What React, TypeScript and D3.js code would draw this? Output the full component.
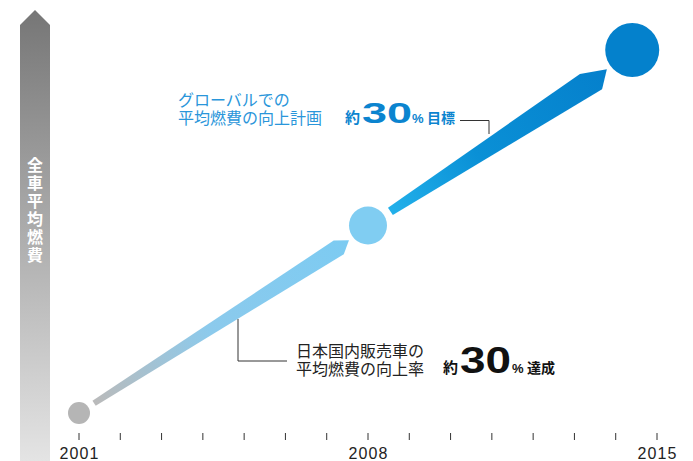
import React from "react";
import * as d3 from "d3";

// ---- data ----
const milestoneYears = [2001, 2008, 2014.4];
const fuelIndex = [100, 131, 160];
const tickYears = d3.range(2001, 2016);
const labelYears = [2001, 2008, 2015];
const axisTitle = "全車平均燃費";
const domesticLines = ["日本国内販売車の", "平均燃費の向上率"];
const globalLines = ["グローバルでの", "平均燃費の向上計画"];
const domesticValue = "30";
const globalValue = "30";

// ---- styles ----
const W = 693;
const H = 461;
const radii = [11, 19, 27];
const circleColors = ["#b5b5b5", "#80cdf2", "#0481cc"];
const JP = "'Noto Sans CJK JP', 'Noto Sans', sans-serif";
const NUM = "'Liberation Sans', Arial, sans-serif";

type BandStyle = {
  s: number; tipBack: number; top0: number; top1: number; bot0: number; bot1: number;
  topBack: number; botBack: number; tipAcross: number; stops: [number, string][];
};
const bandStyles: BandStyle[] = [
  { s: 18, tipBack: 24, top0: 3, top1: 6, bot0: -3, bot1: -11, topBack: 13, botBack: 12, tipAcross: -2,
    stops: [[0, "#bababa"], [0.45, "#8ccaec"], [1, "#7ccbf2"]] },
  { s: 26.5, tipBack: 31.8, top0: 3.8, top1: 9, bot0: -5, bot1: -16, topBack: 25, botBack: 15, tipAcross: -2,
    stops: [[0, "#22b0ea"], [0.4, "#0a90d6"], [1, "#0580cc"]] },
];

export default function App() {
  const x = d3.scaleLinear().domain([2001, 2015]).range([79, 657]);
  const y = d3.scaleLinear().domain([100, 160]).range([413, 50]);

  const pts = milestoneYears.map((yr, i) => ({ x: x(yr), y: y(fuelIndex[i]) }));

  const bands = bandStyles.map((st, i) => {
    const A = pts[i];
    const B = pts[i + 1];
    const dx = B.x - A.x, dy = B.y - A.y;
    const L = Math.hypot(dx, dy);
    const u = { x: dx / L, y: dy / L };
    const n = { x: u.y, y: -u.x }; // points up-left
    const P = (a: number, c: number): [number, number] => [A.x + u.x * a + n.x * c, A.y + u.y * a + n.y * c];
    const tip = L - st.tipBack;
    const poly = [
      P(st.s, st.top0),
      P(tip - st.topBack, st.top1),
      P(tip, st.tipAcross),
      P(tip - st.botBack, st.bot1),
      P(st.s, st.bot0),
    ];
    const g0 = P(st.s, 0);
    const g1 = P(tip, 0);
    return { poly, g0, g1, stops: st.stops };
  });

  const line = d3.line();

  return (
    <svg width={W} height={H} style={{ position: "absolute", left: 0, top: 0, background: "#fff" }}>
      <defs>
        <linearGradient id="axisGrad" x1="0" y1="0" x2="0" y2="1">
          <stop offset="0" stopColor="#767676" />
          <stop offset="1" stopColor="#e4e4e4" />
        </linearGradient>
        {bands.map((b, i) => (
          <linearGradient key={i} id={`band${i}`} gradientUnits="userSpaceOnUse"
            x1={b.g0[0]} y1={b.g0[1]} x2={b.g1[0]} y2={b.g1[1]}>
            {b.stops.map(([o, c], j) => <stop key={j} offset={o} stopColor={c} />)}
          </linearGradient>
        ))}
      </defs>

      {/* vertical axis arrow */}
      <path d="M20,25 L35,10 L50,25 L50,461 L20,461 Z" fill="url(#axisGrad)" />
      <text x={35} y={157} fill="#fff" fontFamily={JP} fontSize={16} fontWeight={700}
        style={{ writingMode: "vertical-rl" as any }} letterSpacing={2}>{axisTitle}</text>

      {/* bands */}
      {bands.map((b, i) => (
        <path key={i} d={line(b.poly as [number, number][])! + "Z"} fill={`url(#band${i})`} />
      ))}

      {/* circles */}
      {pts.map((p, i) => (
        <circle key={i} cx={p.x} cy={p.y} r={radii[i]} fill={circleColors[i]} />
      ))}

      {/* x axis ticks */}
      {tickYears.map((t) => (
        <line key={t} x1={x(t)} x2={x(t)} y1={433} y2={440} stroke="#333" strokeWidth={1} />
      ))}
      {labelYears.map((t) => (
        <text key={t} x={x(t)} y={459} textAnchor="middle" fontFamily={NUM} fontSize={16} fill="#222"
          textLength={39} lengthAdjust="spacing">{t}</text>
      ))}

      {/* connectors */}
      <path d="M238,319 V361 H287" fill="none" stroke="#333" strokeWidth={1} />
      <path d="M460,120.5 H489 V134" fill="none" stroke="#333" strokeWidth={1} />

      {/* domestic annotation */}
      <text fontFamily={JP} fontSize={16} fill="#222">
        {domesticLines.map((t, i) => (
          <tspan key={i} x={296} y={357 + i * 18}>{t}</tspan>
        ))}
      </text>
      <text x={443} y={373} fontFamily={JP} fontSize={15} fontWeight={700} fill="#111">約</text>
      <text x={460} y={373} fontFamily={NUM} fontSize={36} fontWeight={700} fill="#111"
        textLength={51} lengthAdjust="spacingAndGlyphs">{domesticValue}</text>
      <text x={512} y={373} fontFamily={NUM} fontSize={13} fontWeight={700} fill="#111">%</text>
      <text x={527} y={373} fontFamily={JP} fontSize={14} fontWeight={700} fill="#111">達成</text>

      {/* global annotation */}
      <text fontFamily={JP} fontSize={16} fill="#2a96da">
        {globalLines.map((t, i) => (
          <tspan key={i} x={178} y={106 + i * 17.5}>{t}</tspan>
        ))}
      </text>
      <text x={345} y={123} fontFamily={JP} fontSize={15} fontWeight={700} fill="#0b84cf">約</text>
      <text x={362} y={123} fontFamily={NUM} fontSize={30} fontWeight={700} fill="#0b84cf"
        textLength={50} lengthAdjust="spacingAndGlyphs">{globalValue}</text>
      <text x={412} y={123} fontFamily={NUM} fontSize={13} fontWeight={700} fill="#0b84cf">%</text>
      <text x={427} y={123} fontFamily={JP} fontSize={14} fontWeight={700} fill="#0b84cf">目標</text>
    </svg>
  );
}
